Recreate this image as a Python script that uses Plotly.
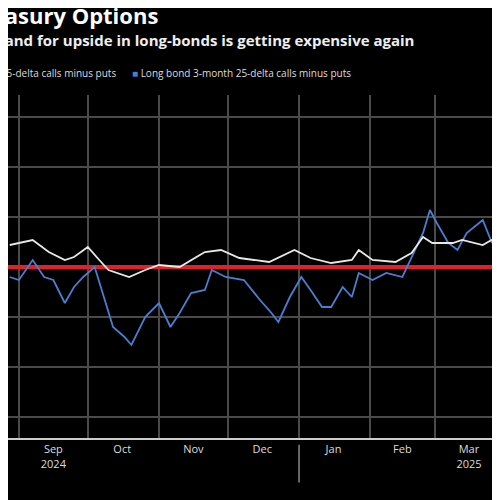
import plotly.graph_objects as go

# long bond 3m 25-delta calls minus puts (blue)
blue_dates = ['2024-08-28', '2024-09-01', '2024-09-07', '2024-09-12', '2024-09-16', '2024-09-21',
              '2024-09-25', '2024-09-29', '2024-10-04', '2024-10-08', '2024-10-12', '2024-10-17',
              '2024-10-20', '2024-10-26', '2024-11-01', '2024-11-06', '2024-11-10', '2024-11-15',
              '2024-11-21', '2024-11-24', '2024-11-30', '2024-12-08', '2024-12-15', '2024-12-20',
              '2024-12-23', '2024-12-28', '2025-01-02', '2025-01-06', '2025-01-11', '2025-01-15',
              '2025-01-20', '2025-01-24', '2025-01-27', '2025-02-02', '2025-02-08', '2025-02-15',
              '2025-02-19', '2025-02-24', '2025-02-27', '2025-03-02', '2025-03-07', '2025-03-11',
              '2025-03-15', '2025-03-22', '2025-03-26', '2025-03-30', '2025-04-01']
blue_vals = [-0.2, -0.26, 0.14, -0.2, -0.26, -0.72,
             -0.4, -0.2, 0.0, -0.6, -1.2, -1.4,
             -1.56, -1.0, -0.72, -1.2, -0.92, -0.52,
             -0.46, -0.06, -0.2, -0.26, -0.66, -0.92,
             -1.1, -0.6, -0.2, -0.46, -0.8, -0.8,
             -0.4, -0.6, -0.12, -0.26, -0.12, -0.2,
             0.2, 0.68, 1.14, 0.88, 0.48, 0.34,
             0.68, 0.94, 0.48, 0.8, 1.34]

# 10-year 3m 25-delta calls minus puts (white)
white_dates = ['2024-08-28', '2024-09-07', '2024-09-14', '2024-09-21', '2024-09-25', '2024-10-01',
               '2024-10-06', '2024-10-10', '2024-10-19', '2024-10-26', '2024-11-01', '2024-11-10',
               '2024-11-21', '2024-11-28', '2024-12-06', '2024-12-19', '2024-12-30', '2025-01-06',
               '2025-01-15', '2025-01-24', '2025-01-27', '2025-02-02', '2025-02-12', '2025-02-19',
               '2025-02-24', '2025-02-28', '2025-03-09', '2025-03-13', '2025-03-22', '2025-03-30',
               '2025-04-01']
white_vals = [0.44, 0.54, 0.3, 0.14, 0.2, 0.4,
              0.14, -0.06, -0.2, -0.06, 0.04, 0.0,
              0.3, 0.34, 0.18, 0.1, 0.34, 0.18,
              0.08, 0.14, 0.34, 0.14, 0.1, 0.28,
              0.6, 0.48, 0.48, 0.54, 0.44, 0.64,
              0.7]

month_starts = ['2024-09-01', '2024-10-01', '2024-11-01', '2024-12-01', '2025-01-01',
                '2025-02-01', '2025-03-01', '2025-04-01']
label_dates = ['2024-09-16', '2024-10-16', '2024-11-16', '2024-12-16', '2025-01-16',
               '2025-02-15', '2025-03-16']
label_text = ['Sep<br>2024', 'Oct', 'Nov', 'Dec', 'Jan', 'Feb', 'Mar<br>2025']

FONT = 'Open Sans'

fig = go.Figure()
fig.add_trace(go.Scatter(x=blue_dates, y=blue_vals, mode='lines',
                         line=dict(color='#4a7fd0', width=1.8), showlegend=False))
fig.add_trace(go.Scatter(x=white_dates, y=white_vals, mode='lines',
                         line=dict(color='#e8e8e8', width=1.8), showlegend=False))

fig.update_layout(
    width=500, height=500,
    paper_bgcolor='black', plot_bgcolor='black',
    margin=dict(l=0, r=0, t=87, b=70),
    font=dict(family=FONT, color='white'),
    xaxis=dict(range=['2024-08-27 06:00', '2025-04-02'], tickvals=label_dates, ticktext=label_text,
               showgrid=False, ticks='', tickfont=dict(size=11, color='#dddddd'),
               showline=True, linecolor='#cccccc', linewidth=2,
               minor=dict(tickvals=month_starts, showgrid=True, gridcolor='#4a4a4a', gridwidth=1.5)),
    yaxis=dict(range=[-3.42, 3.44], tickvals=[-3, -2, -1, 0, 1, 2, 3], showticklabels=False,
               gridcolor='#4a4a4a', gridwidth=1.5,
               zeroline=True, zerolinecolor='#e0202c', zerolinewidth=4),
)

fig.add_annotation(text='<b>Treasury Options</b>', xref='paper', yref='paper',
                   x=152 / 500, y=1, yshift=80, xanchor='right', yanchor='middle',
                   showarrow=False, font=dict(size=22, color='white', family=FONT))
fig.add_annotation(text='<b>Demand for upside in long-bonds is getting expensive again</b>',
                   xref='paper', yref='paper', x=408 / 500, y=1, yshift=55,
                   xanchor='right', yanchor='middle', showarrow=False,
                   font=dict(size=15, color='#eeeeee', family=FONT))
fig.add_annotation(text='<span style="color:#e8e8e8">■</span> 10-year 3-month 25-delta calls minus puts',
                   xref='paper', yref='paper', x=110 / 500, y=1, yshift=22,
                   xanchor='right', yanchor='middle', showarrow=False,
                   font=dict(size=10, color='#dddddd', family=FONT))
fig.add_annotation(text='<span style="color:#4a7fd0">■</span> Long bond 3-month 25-delta calls minus puts',
                   xref='paper', yref='paper', x=122 / 500, y=1, yshift=22,
                   xanchor='left', yanchor='middle', showarrow=False,
                   font=dict(size=10, color='#dddddd', family=FONT))

# year divider under the axis
fig.add_shape(type='line', xref='x', yref='paper', x0='2025-01-01', x1='2025-01-01',
              y0=-0.02, y1=-0.13, line=dict(color='#888888', width=1.5))

fig.write_html('out.html')
